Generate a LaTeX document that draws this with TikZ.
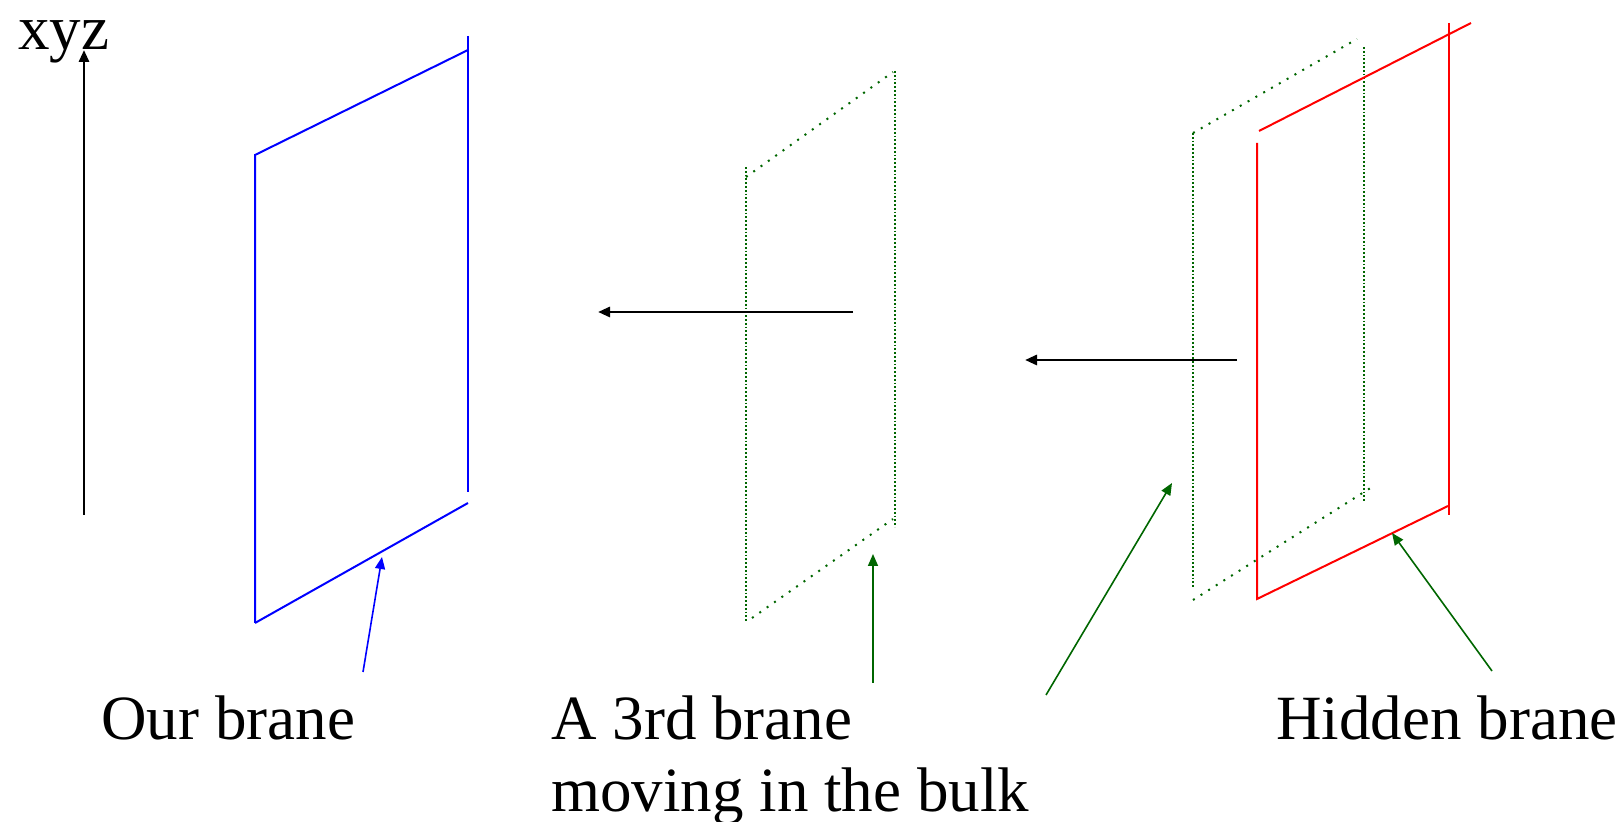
\documentclass[tikz,border=0pt]{standalone}
\usepackage{fontspec}
\setmainfont{Liberation Serif}
\usetikzlibrary{arrows.meta}

\begin{document}
\begin{tikzpicture}[x=0.5pt, y=-0.5pt, every node/.style={font=\fontsize{31.5}{36}\selectfont, inner sep=0pt}, lbl/.style={anchor=base west, align=left}, arr/.style={-{Triangle[length=6pt,width=5pt]}, line width=1.4pt}, ptr/.style={-{Triangle[length=6pt,width=5pt]}, line width=0.8pt}, ours/.style={blue, line width=1pt}, thirdedge/.style={green!40!black, line width=0.9pt, dash pattern=on 0.9pt off 1pt}, thirdslant/.style={green!40!black, line width=1pt, dash pattern=on 1pt off 3.5pt}, hidden/.style={red, line width=1pt}]
\useasboundingbox (0,0) rectangle (1624,822);
\node[lbl] (xyz) at (18,50) {xyz};
\coordinate (axbot) at (84,515);
\coordinate (axtop) at (84,50);
\draw[arr] (axbot) -- (axtop);
\draw[ours] (255,623) -- (255,155) -- (468,50);
\draw[ours] (468,36) -- (468,492);
\draw[ours] (255,623) -- (468,503);
\draw[thirdedge] (746,167) -- (746,622);
\draw[thirdedge] (895,71) -- (895,527);
\draw[thirdslant] (746,177) -- (893,72);
\draw[thirdslant] (752,618) -- (893,519);
\draw[thirdedge] (1193,133) -- (1193,588);
\draw[thirdedge] (1364,47) -- (1364,502);
\draw[thirdslant] (1193,133) -- (1357,39);
\draw[thirdslant] (1193,600) -- (1372,487);
\draw[hidden] (1257,143) -- (1257,599) -- (1448,506);
\draw[hidden] (1449,23) -- (1449,515);
\draw[hidden] (1259,131) -- (1471,23);
\coordinate (pushAfrom) at (853,312);
\coordinate (pushAto) at (598,312);
\coordinate (pushBfrom) at (1237,360);
\coordinate (pushBto) at (1025,360);
\draw[arr] (pushAfrom) -- (pushAto);
\draw[arr] (pushBfrom) -- (pushBto);
\node[lbl] (our) at (101,740) {Our brane};
\node[lbl] (third) at (551,812) {A 3rd brane\\moving in the bulk};
\node[lbl] (hid) at (1276,740) {Hidden brane};
\coordinate (ourtail) at (363,672);
\coordinate (ourtip) at (382,557);
\coordinate (thirdtail) at (873,683);
\coordinate (thirdtip) at (873,554);
\coordinate (bulktail) at (1046,695);
\coordinate (bulktip) at (1172,483);
\coordinate (hidtail) at (1492,671);
\coordinate (hidtip) at (1392,533);
\draw[ptr, blue] (ourtail) -- (ourtip);
\draw[ptr, green!40!black] (thirdtail) -- (thirdtip);
\draw[ptr, green!40!black] (bulktail) -- (bulktip);
\draw[ptr, green!40!black] (hidtail) -- (hidtip);
\end{tikzpicture}
\end{document}
